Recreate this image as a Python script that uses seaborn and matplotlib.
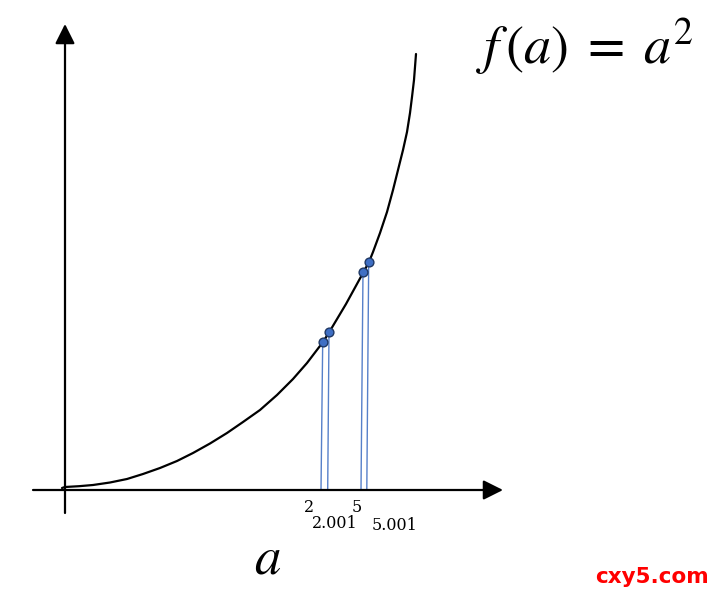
import matplotlib
matplotlib.use("Agg")
import matplotlib.pyplot as plt
import seaborn as sns
import pandas as pd

# ---- data (diagram units: origin at the axes crossing) ----
curve_a = [-3, 0, 14, 28, 45, 62, 78, 95, 112, 128, 145, 162, 178, 195, 212, 228,
           242, 258, 264, 281, 298, 304, 308, 315, 322, 328, 333, 338, 342, 345,
           347, 349, 350, 351]
curve_f = [2, 3, 3.8, 5, 7.5, 11, 16, 22, 29, 37, 46.5, 57, 68, 80, 95, 111,
           127, 148, 157.5, 186, 217, 228, 238, 257, 278, 300, 320, 340, 358, 377,
           393, 410, 423, 436]

point_a = [257.7, 264.0, 298.0, 303.7]
point_f = [148.0, 158.0, 218.3, 228.0]
foot_a = [256.0, 262.7, 296.0, 301.8]

tick_labels = ["2", "5", "2.001", "5.001"]
tick_x = [244, 291.7, 270, 330]
tick_y = [-17, -17, -33, -36]

sns.set_theme(style="white")
plt.rcParams["mathtext.fontset"] = "stix"

fig = plt.figure(figsize=(7.14, 5.96), dpi=100)
ax = fig.add_axes([0, 0, 1, 1])
ax.set_xlim(-65, 649)
ax.set_ylim(-106, 490)
ax.axis("off")

# axes arrows
arrow = dict(arrowstyle="-|>", lw=1.6, color="black", mutation_scale=30,
             shrinkA=0, shrinkB=0)
ax.annotate("", xy=(438, 0), xytext=(-32, 0), arrowprops=arrow)
ax.annotate("", xy=(0, 466), xytext=(0, -23), arrowprops=arrow)

# drop lines
for xa, ya, xf in zip(point_a, point_f, foot_a):
    ax.plot([xa, xf], [ya, 0], color="#4472C4", lw=1.0, alpha=0.9, zorder=2)

curve = pd.DataFrame({"a": curve_a, "f": curve_f})
sns.lineplot(data=curve, x="a", y="f", sort=False, color="black", lw=1.6,
             ax=ax, zorder=3)

pts = pd.DataFrame({"a": point_a, "f": point_f})
sns.scatterplot(data=pts, x="a", y="f", s=40, color="#3F6FC4",
                edgecolor="#1F3864", linewidth=1.0, ax=ax, zorder=4)

for t, x, y in zip(tick_labels, tick_x, tick_y):
    ax.text(x, y, t, ha="center", va="center", fontsize=11.5,
            family="DejaVu Serif", color="black")

ax.set_xlabel("")
ax.set_ylabel("")

ax.text(519.5, 443, r"$f\,(a)\;=\;a^2$", ha="center", va="center",
        fontsize=39, color="black")
ax.text(203, -68, r"$a$", ha="center", va="center", fontsize=38, color="black")

ax.text(587, -87, "cxy5.com", ha="center", va="center", fontsize=15.5,
        fontweight="bold", family="DejaVu Sans", color="#FF0000")

fig.savefig("out.png", dpi=100)
